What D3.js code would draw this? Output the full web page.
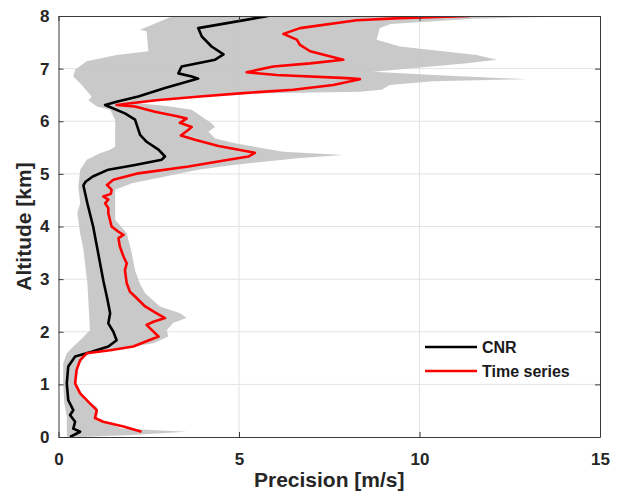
<!DOCTYPE html>
<html>
<head>
<meta charset="utf-8">
<script src="https://cdn.jsdelivr.net/npm/d3@7"></script>
<style>
  html, body { margin: 0; padding: 0; background: #fff; }
  svg { display: block; }
  text { font-family: "Liberation Sans", Arial, sans-serif; font-weight: bold; }
</style>
</head>
<body>
<svg id="chart" width="619" height="498"></svg>
<script>
// Precision profile versus altitude: CNR-based and time-series estimates,
// with the min–max spread of the estimates as a grey band.

const xTicks = [0, 5, 10, 15];
const yTicks = [0, 1, 2, 3, 4, 5, 6, 7, 8];

// CNR estimate (black)
const cnrAltitude = [8.00, 7.77, 7.61, 7.42, 7.27, 7.17, 7.04, 6.91, 6.85, 6.81, 6.63, 6.47, 6.37, 6.31,
  6.15, 6.03, 5.74, 5.61, 5.46, 5.33, 5.27, 5.17, 5.08, 4.95, 4.85, 4.78, 4.44, 4.00, 3.49, 2.98, 2.60,
  2.35, 2.16, 2.00, 1.84, 1.72, 1.62, 1.53, 1.34, 1.02, 0.70, 0.51, 0.42, 0.29, 0.16, 0.10, 0.00];
const cnrPrecision = [5.81, 3.87, 3.97, 4.24, 4.57, 4.34, 3.41, 3.32, 3.69, 3.87, 2.95, 2.21, 1.61, 1.29,
  1.84, 2.12, 2.26, 2.44, 2.77, 2.95, 2.86, 2.12, 1.38, 0.95, 0.75, 0.69, 0.80, 0.96, 1.10, 1.24, 1.36,
  1.43, 1.38, 1.52, 1.61, 1.38, 0.92, 0.46, 0.27, 0.23, 0.27, 0.41, 0.32, 0.46, 0.41, 0.60, 0.32];

// Time-series estimate (red)
const tsAltitude = [8.00, 7.96, 7.92, 7.77, 7.66, 7.55, 7.45, 7.33, 7.17, 7.10, 7.04, 6.93, 6.88, 6.82,
  6.80, 6.69, 6.60, 6.53, 6.47, 6.40, 6.31, 6.28, 6.18, 6.09, 6.05, 5.97, 5.89, 5.84, 5.73, 5.65, 5.53,
  5.40, 5.33, 5.27, 5.14, 5.01, 4.89, 4.82, 4.79, 4.70, 4.62, 4.57, 4.51, 4.44, 4.35, 4.25, 4.00, 3.90,
  3.84, 3.78, 3.62, 3.43, 3.30, 3.17, 2.92, 2.76, 2.67, 2.48, 2.35, 2.26, 2.19, 2.13, 1.91, 1.72, 1.65,
  1.59, 1.46, 1.27, 1.02, 0.83, 0.64, 0.51, 0.36, 0.29, 0.20, 0.10];
const tsPrecision = [11.4, 9.46, 8.26, 6.69, 6.23, 6.60, 6.69, 6.97, 7.89, 6.97, 5.95, 5.21, 6.04, 7.98,
  8.35, 7.61, 6.50, 5.03, 3.92, 2.70, 1.61, 2.12, 2.67, 3.32, 3.55, 3.36, 3.69, 3.60, 3.39, 3.78, 4.43,
  5.44, 5.26, 4.71, 3.60, 2.21, 1.52, 1.40, 1.34, 1.47, 1.45, 1.24, 1.38, 1.29, 1.38, 1.38, 1.47, 1.66,
  1.80, 1.66, 1.70, 1.80, 1.89, 1.84, 1.89, 1.98, 2.12, 2.40, 2.72, 2.95, 2.63, 2.44, 2.77, 2.07, 1.43,
  0.78, 0.60, 0.50, 0.46, 0.60, 0.87, 1.06, 1.01, 1.24, 1.80, 2.30];

// Spread band: upper (max) edge, listed top to bottom
const bandHiAltitude = [8.00, 7.95, 7.85, 7.77, 7.55, 7.42, 7.26, 7.17, 7.10, 6.94, 6.88, 6.80, 6.76,
  6.69, 6.60, 6.56, 6.52, 6.47, 6.40, 6.34, 6.29, 6.22, 5.96, 5.89, 5.80, 5.67, 5.58, 5.42, 5.36, 5.30,
  5.17, 5.08, 4.95, 4.82, 4.70, 4.44, 4.13, 3.87, 3.49, 3.17, 2.92, 2.73, 2.48, 2.35, 2.26, 2.17, 2.03,
  1.91, 1.78, 1.72, 1.65, 1.59, 1.53, 1.34, 1.02, 0.70, 0.58, 0.45, 0.35, 0.16, 0.10, 0.04, 0.00];
const bandHiPrecision = [14.5, 11.5, 9.2, 8.90, 8.81, 9.46, 11.58, 12.14, 11.31, 8.72, 10.38, 12.97, 10.37,
  9.18, 8.95, 8.35, 5.0, 4.0, 2.85, 2.2, 3.0, 3.69, 4.24, 4.34, 4.15, 4.34, 4.89, 6.23, 7.89, 6.69,
  4.84, 3.87, 2.95, 2.03, 1.57, 1.57, 1.57, 1.89, 2.03, 2.12, 2.25, 2.40, 2.81, 3.37, 3.55, 3.18, 3.00,
  3.04, 2.63, 2.07, 1.43, 0.85, 0.73, 0.55, 0.50, 0.73, 1.06, 1.10, 1.06, 1.75, 3.55, 2.03, 0.60];

// Spread band: lower (min) edge, listed top to bottom
const bandLoAltitude = [8.00, 7.74, 7.71, 7.33, 7.26, 7.14, 6.98, 6.85, 6.72, 6.47, 6.40, 6.28, 6.22,
  6.03, 5.52, 5.46, 5.39, 5.27, 5.08, 4.76, 4.44, 4.25, 3.87, 3.56, 2.92, 2.29, 2.03, 1.84, 1.72, 1.59,
  1.40, 1.02, 0.64, 0.39, 0.05, 0.00];
const bandLoPrecision = [3.17, 2.26, 2.44, 2.49, 1.61, 0.78, 0.46, 0.41, 0.60, 0.92, 0.83, 1.06, 1.43,
  1.57, 1.57, 1.43, 1.15, 0.78, 0.60, 0.55, 0.60, 0.52, 0.60, 0.69, 0.80, 0.85, 0.87, 0.60, 0.41, 0.23,
  0.13, 0.13, 0.16, 0.23, 0.23, 0.25];

const seriesNames = ["CNR", "Time series"];
const seriesColors = ["#000000", "#ff0000"];

const svg = d3.select("#chart");
const plot = { left: 58.5, right: 600, top: 16, bottom: 437 };

const x = d3.scaleLinear().domain([0, 15]).range([plot.left, plot.right]);
const y = d3.scaleLinear().domain([0, 8]).range([plot.bottom, plot.top]);

svg.append("rect").attr("width", 619).attr("height", 498).attr("fill", "#fff");

// grid
const grid = svg.append("g").attr("stroke", "#e3e3e3").attr("stroke-width", 1);
grid.selectAll("line.gx").data(xTicks.slice(1, -1)).join("line")
  .attr("x1", d => x(d)).attr("x2", d => x(d))
  .attr("y1", plot.top).attr("y2", plot.bottom);
grid.selectAll("line.gy").data(yTicks.slice(1, -1)).join("line")
  .attr("y1", d => y(d)).attr("y2", d => y(d))
  .attr("x1", plot.left).attr("x2", plot.right);

const clip = svg.append("clipPath").attr("id", "plotclip").append("rect")
  .attr("x", plot.left).attr("y", plot.top)
  .attr("width", plot.right - plot.left).attr("height", plot.bottom - plot.top);

const data = svg.append("g").attr("clip-path", "url(#plotclip)");

// band polygon: upper edge downward, then lower edge back up
const bandPts = bandHiAltitude.map((a, i) => [bandHiPrecision[i], a])
  .concat(bandLoAltitude.map((a, i) => [bandLoPrecision[i], a]).reverse());
data.append("path")
  .attr("d", d3.line().x(d => x(d[0])).y(d => y(d[1]))(bandPts) + "Z")
  .attr("fill", "#c4c4c4")
  .attr("fill-opacity", 0.92);

const profile = d3.line().x(d => x(d[0])).y(d => y(d[1]));
const series = [
  cnrAltitude.map((a, i) => [cnrPrecision[i], a]),
  tsAltitude.map((a, i) => [tsPrecision[i], a])
];
series.forEach((pts, i) => {
  data.append("path")
    .attr("d", profile(pts))
    .attr("fill", "none")
    .attr("stroke", seriesColors[i])
    .attr("stroke-width", 2.6)
    .attr("stroke-linejoin", "round");
});

// axes (ticks pointing inward, box on all four sides)
const axisColor = "#3a3a3a";
const styleAxis = g => {
  g.select(".domain").attr("stroke", axisColor);
  g.selectAll(".tick line").attr("stroke", axisColor);
  g.selectAll(".tick text").attr("fill", "#262626")
    .style("font-size", "17px").style("font-weight", "bold")
    .style("font-family", "'Liberation Sans', Arial, sans-serif");
};

svg.append("g").attr("transform", `translate(0,${plot.bottom})`)
  .call(d3.axisBottom(x).tickValues(xTicks).tickSizeInner(-5).tickSizeOuter(0).tickPadding(16))
  .call(styleAxis);
svg.append("g").attr("transform", `translate(0,${plot.top})`)
  .call(d3.axisTop(x).tickValues(xTicks).tickSizeInner(-5).tickSizeOuter(0).tickFormat(""))
  .call(styleAxis);
svg.append("g").attr("transform", `translate(${plot.left},0)`)
  .call(d3.axisLeft(y).tickValues(yTicks).tickSizeInner(-5).tickSizeOuter(0).tickPadding(9))
  .call(styleAxis);
svg.append("g").attr("transform", `translate(${plot.right},0)`)
  .call(d3.axisRight(y).tickValues(yTicks).tickSizeInner(-5).tickSizeOuter(0).tickFormat(""))
  .call(styleAxis);

// axis titles
svg.append("text")
  .attr("x", (plot.left + plot.right) / 2).attr("y", 487)
  .attr("text-anchor", "middle")
  .attr("fill", "#262626").style("font-size", "21px")
  .text("Precision [m/s]");
svg.append("text")
  .attr("transform", `translate(31,${(plot.top + plot.bottom) / 2}) rotate(-90)`)
  .attr("text-anchor", "middle")
  .attr("fill", "#262626").style("font-size", "21px")
  .text("Altitude [km]");

// legend
const legend = svg.append("g").attr("transform", "translate(425,347)");
seriesNames.forEach((name, i) => {
  const row = legend.append("g").attr("transform", `translate(0,${i * 24})`);
  row.append("line").attr("x1", 0).attr("x2", 52).attr("y1", 0).attr("y2", 0)
    .attr("stroke", seriesColors[i]).attr("stroke-width", 2.6);
  row.append("text").attr("x", 57).attr("y", 6)
    .attr("fill", "#1a1a1a").style("font-size", "16px")
    .text(name);
});
</script>
</body>
</html>
